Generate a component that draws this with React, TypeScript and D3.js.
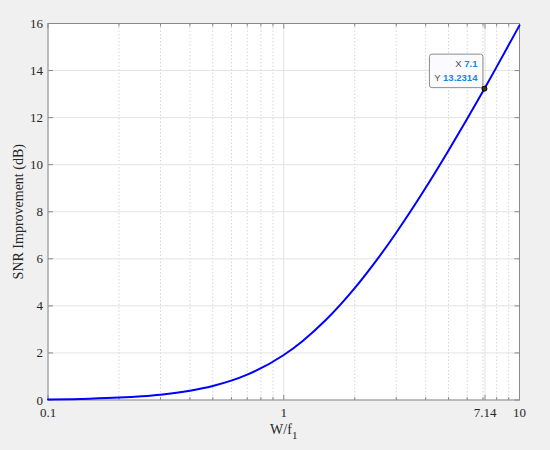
import React from 'react';
import * as d3 from 'd3';

// W/f1 ratio and the SNR improvement (dB)
const ratio = [0.1, 0.15, 0.2, 0.25, 0.3, 0.4, 0.5, 0.7, 1, 1.2, 1.5, 2, 2.5, 3, 4, 5, 6, 7.1, 8, 10];
const snrDb = [0.026, 0.058, 0.102, 0.159, 0.226, 0.392, 0.593, 1.075, 1.912, 2.5, 3.375, 4.752, 5.995, 7.11, 9.019, 10.603, 11.951, 13.231, 14.157, 15.92];

const xTicks = [0.1, 1, 7.14, 10];
const xTickLabels = ['0.1', '1', '7.14', '10'];
const xMinor = [0.2, 0.3, 0.4, 0.5, 0.6, 0.7, 0.8, 0.9, 2, 3, 4, 5, 6, 7, 8, 9];
const yTicks = [0, 2, 4, 6, 8, 10, 12, 14, 16];

const tip = { x: 7.1, y: 13.2314, xLabel: '7.1', yLabel: '13.2314' };

const W = 550;
const H = 450;
const margin = { top: 23.5, right: 30.5, bottom: 50, left: 48 };

const App: React.FC = () => {
  const innerW = W - margin.left - margin.right;
  const innerH = H - margin.top - margin.bottom;

  const x = d3.scaleLog().domain([0.1, 10]).range([margin.left, margin.left + innerW]);
  const y = d3.scaleLinear().domain([0, 16]).range([margin.top + innerH, margin.top]);

  const points = ratio.map((r, i) => [r, snrDb[i]] as [number, number]);
  const line = d3.line<[number, number]>()
    .x(d => x(d[0]))
    .y(d => y(d[1]))
    .curve(d3.curveMonotoneX);

  const x0 = margin.left;
  const x1 = margin.left + innerW;
  const y0 = margin.top + innerH;
  const y1 = margin.top;
  const axisColor = '#8a8a8a';
  const serif = '"Liberation Serif", "Times New Roman", serif';
  const sans = '"Liberation Sans", Arial, sans-serif';

  const px = x(tip.x);
  const py = y(tip.y);

  return (
    <div style={{ position: 'absolute', left: 0, top: 0 }}>
      <svg width={W} height={H} style={{ display: 'block' }}>
        <rect width={W} height={H} fill="#f0f0f0" />
        <rect x={x0} y={y1} width={innerW} height={innerH} fill="#ffffff" />

        {/* minor grid (dotted) */}
        {xMinor.map(v => (
          <line key={'mg' + v} x1={x(v)} x2={x(v)} y1={y1} y2={y0}
            stroke="#d6d6d6" strokeWidth={1} strokeDasharray="1.5,2" />
        ))}
        {/* major grid */}
        {xTicks.map(v => (
          <line key={'xg' + v} x1={x(v)} x2={x(v)} y1={y1} y2={y0} stroke="#e3e3e3" strokeWidth={1} />
        ))}
        {yTicks.map(v => (
          <line key={'yg' + v} x1={x0} x2={x1} y1={y(v)} y2={y(v)} stroke="#e3e3e3" strokeWidth={1} />
        ))}

        {/* tick marks, inward on all four sides */}
        {xTicks.map(v => (
          <g key={'xt' + v} stroke={axisColor}>
            <line x1={x(v)} x2={x(v)} y1={y0} y2={y0 - 5} />
            <line x1={x(v)} x2={x(v)} y1={y1} y2={y1 + 5} />
          </g>
        ))}
        {xMinor.map(v => (
          <g key={'xm' + v} stroke={axisColor}>
            <line x1={x(v)} x2={x(v)} y1={y0} y2={y0 - 3} />
            <line x1={x(v)} x2={x(v)} y1={y1} y2={y1 + 3} />
          </g>
        ))}
        {yTicks.map(v => (
          <g key={'yt' + v} stroke={axisColor}>
            <line x1={x0} x2={x0 + 5} y1={y(v)} y2={y(v)} />
            <line x1={x1} x2={x1 - 5} y1={y(v)} y2={y(v)} />
          </g>
        ))}

        {/* axes box */}
        <rect x={x0} y={y1} width={innerW} height={innerH} fill="none" stroke={axisColor} strokeWidth={1} />

        {/* tick labels */}
        {yTicks.map(v => (
          <text key={'yl' + v} x={x0 - 5} y={y(v)} dy="0.35em" textAnchor="end"
            fontFamily={serif} fontSize={13} fill="#262626">{v}</text>
        ))}
        {xTicks.map((v, i) => (
          <text key={'xl' + v} x={x(v)} y={y0 + 17} textAnchor="middle"
            fontFamily={serif} fontSize={13} fill="#262626">{xTickLabels[i]}</text>
        ))}

        {/* axis labels */}
        <text transform={`translate(23,${(y0 + y1) / 2}) rotate(-90)`} textAnchor="middle"
          fontFamily={serif} fontSize={14} fill="#262626">SNR Improvement (dB)</text>
        <text x={(x0 + x1) / 2} y={434} textAnchor="middle" fontFamily={serif} fontSize={14} fill="#262626">
          W/f<tspan dy={5} fontSize={11}>1</tspan>
        </text>

        {/* curve */}
        <path d={line(points) ?? ''} fill="none" stroke="#0000ff" strokeWidth={2}
          strokeLinejoin="round" strokeLinecap="round" />

        {/* data tip */}
        <rect x={px - 55} y={py - 34.5} width={53.5} height={33.5} rx={2.5}
          fill="#fbfbff" stroke="#8c8c8c" strokeWidth={1} />
        <text x={px - 7} y={py - 21.5} textAnchor="end" fontFamily={sans} fontSize={9.5}>
          <tspan fill="#4d4d4d">X </tspan>
          <tspan fill="#0d8ae8" fontWeight="bold">{tip.xLabel}</tspan>
        </text>
        <text x={px - 7} y={py - 7.5} textAnchor="end" fontFamily={sans} fontSize={9.5}>
          <tspan fill="#4d4d4d">Y </tspan>
          <tspan fill="#0d8ae8" fontWeight="bold">{tip.yLabel}</tspan>
        </text>
        <circle cx={px} cy={py} r={2.5} fill="#3a3a10" stroke="#000000" strokeWidth={1} />
      </svg>
    </div>
  );
};

export default App;
